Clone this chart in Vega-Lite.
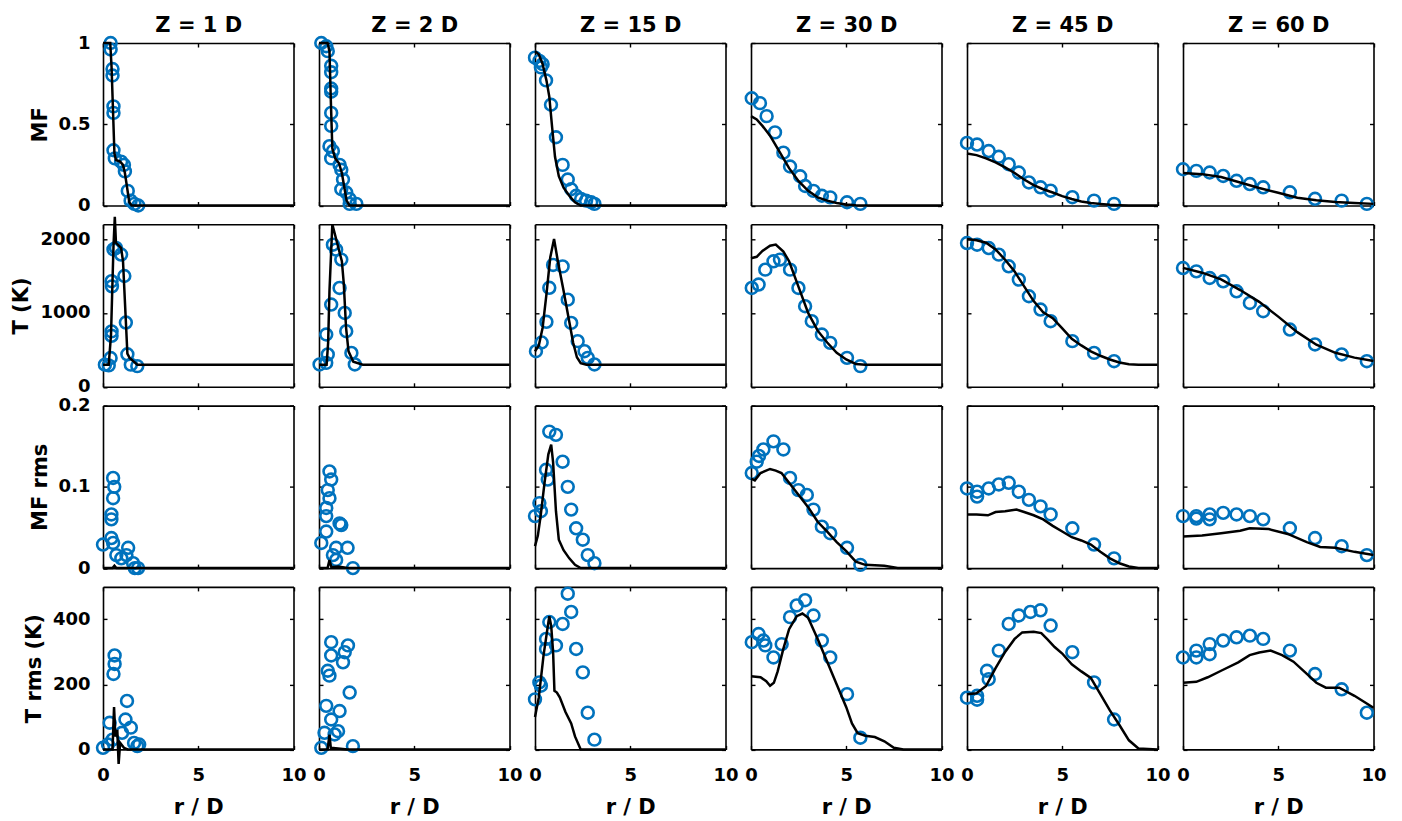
{
"$schema":"https://vega.github.io/schema/vega-lite/v6.json",
"background":"white",
"padding":{"left":10,"top":14,"right":5,"bottom":5},
"datasets":{"d":[
{"z":1,"v":"MF","k":"p","r":0.4,"y":1.0},{"z":1,"v":"MF","k":"p","r":0.4,"y":0.96},{"z":1,"v":"MF","k":"p","r":0.5,"y":0.84},{"z":1,"v":"MF","k":"p","r":0.5,"y":0.8},{"z":1,"v":"MF","k":"p","r":0.55,"y":0.61},{"z":1,"v":"MF","k":"p","r":0.55,"y":0.57},{"z":1,"v":"MF","k":"p","r":0.55,"y":0.34},{"z":1,"v":"MF","k":"p","r":0.62,"y":0.29},{"z":1,"v":"MF","k":"p","r":0.95,"y":0.27},{"z":1,"v":"MF","k":"p","r":1.1,"y":0.25},{"z":1,"v":"MF","k":"p","r":1.15,"y":0.21},{"z":1,"v":"MF","k":"p","r":1.3,"y":0.09},{"z":1,"v":"MF","k":"p","r":1.45,"y":0.03},{"z":1,"v":"MF","k":"p","r":1.65,"y":0.01},{"z":1,"v":"MF","k":"p","r":1.85,"y":0.0},
{"z":1,"v":"MF","k":"l","r":0,"y":1},{"z":1,"v":"MF","k":"l","r":0.38,"y":1},{"z":1,"v":"MF","k":"l","r":0.45,"y":0.85},{"z":1,"v":"MF","k":"l","r":0.6,"y":0.32},{"z":1,"v":"MF","k":"l","r":0.68,"y":0.28},{"z":1,"v":"MF","k":"l","r":0.9,"y":0.27},{"z":1,"v":"MF","k":"l","r":1.05,"y":0.25},{"z":1,"v":"MF","k":"l","r":1.15,"y":0.2},{"z":1,"v":"MF","k":"l","r":1.38,"y":0.02},{"z":1,"v":"MF","k":"l","r":1.5,"y":0},{"z":1,"v":"MF","k":"l","r":10,"y":0},
{"z":1,"v":"T","k":"p","r":0.1,"y":300},{"z":1,"v":"T","k":"p","r":0.3,"y":290},{"z":1,"v":"T","k":"p","r":0.4,"y":390},{"z":1,"v":"T","k":"p","r":0.45,"y":750},{"z":1,"v":"T","k":"p","r":0.45,"y":690},{"z":1,"v":"T","k":"p","r":0.45,"y":1430},{"z":1,"v":"T","k":"p","r":0.47,"y":1360},{"z":1,"v":"T","k":"p","r":0.55,"y":1860},{"z":1,"v":"T","k":"p","r":0.68,"y":1880},{"z":1,"v":"T","k":"p","r":0.95,"y":1790},{"z":1,"v":"T","k":"p","r":1.12,"y":1500},{"z":1,"v":"T","k":"p","r":1.2,"y":870},{"z":1,"v":"T","k":"p","r":1.28,"y":440},{"z":1,"v":"T","k":"p","r":1.46,"y":300},{"z":1,"v":"T","k":"p","r":1.8,"y":280},
{"z":1,"v":"T","k":"l","r":0,"y":300},{"z":1,"v":"T","k":"l","r":0.3,"y":300},{"z":1,"v":"T","k":"l","r":0.42,"y":700},{"z":1,"v":"T","k":"l","r":0.55,"y":1900},{"z":1,"v":"T","k":"l","r":0.62,"y":2300},{"z":1,"v":"T","k":"l","r":0.68,"y":1950},{"z":1,"v":"T","k":"l","r":0.95,"y":1880},{"z":1,"v":"T","k":"l","r":1.05,"y":1700},{"z":1,"v":"T","k":"l","r":1.28,"y":450},{"z":1,"v":"T","k":"l","r":1.4,"y":390},{"z":1,"v":"T","k":"l","r":1.8,"y":300},{"z":1,"v":"T","k":"l","r":10,"y":300},
{"z":1,"v":"MFrms","k":"p","r":0.53,"y":0.111},{"z":1,"v":"MFrms","k":"p","r":0.59,"y":0.1},{"z":1,"v":"MFrms","k":"p","r":0.53,"y":0.086},{"z":1,"v":"MFrms","k":"p","r":0.44,"y":0.066},{"z":1,"v":"MFrms","k":"p","r":0.44,"y":0.06},{"z":1,"v":"MFrms","k":"p","r":0,"y":0.029},{"z":1,"v":"MFrms","k":"p","r":0.44,"y":0.037},{"z":1,"v":"MFrms","k":"p","r":0.53,"y":0.031},{"z":1,"v":"MFrms","k":"p","r":0.7,"y":0.016},{"z":1,"v":"MFrms","k":"p","r":0.96,"y":0.012},{"z":1,"v":"MFrms","k":"p","r":1.32,"y":0.025},{"z":1,"v":"MFrms","k":"p","r":1.23,"y":0.016},{"z":1,"v":"MFrms","k":"p","r":1.58,"y":0.006},{"z":1,"v":"MFrms","k":"p","r":1.84,"y":0},{"z":1,"v":"MFrms","k":"p","r":1.67,"y":0},
{"z":1,"v":"MFrms","k":"l","r":0,"y":0},{"z":1,"v":"MFrms","k":"l","r":0.5,"y":0},{"z":1,"v":"MFrms","k":"l","r":0.6,"y":0.003},{"z":1,"v":"MFrms","k":"l","r":0.7,"y":0},{"z":1,"v":"MFrms","k":"l","r":10,"y":0},
{"z":1,"v":"Trms","k":"p","r":0,"y":5},{"z":1,"v":"Trms","k":"p","r":0.35,"y":82},{"z":1,"v":"Trms","k":"p","r":0.61,"y":289},{"z":1,"v":"Trms","k":"p","r":0.61,"y":263},{"z":1,"v":"Trms","k":"p","r":0.55,"y":232},{"z":1,"v":"Trms","k":"p","r":1.26,"y":149},{"z":1,"v":"Trms","k":"p","r":1.18,"y":92},{"z":1,"v":"Trms","k":"p","r":1.46,"y":67},{"z":1,"v":"Trms","k":"p","r":1.0,"y":51},{"z":1,"v":"Trms","k":"p","r":0.5,"y":30},{"z":1,"v":"Trms","k":"p","r":1.63,"y":20},{"z":1,"v":"Trms","k":"p","r":1.9,"y":15},{"z":1,"v":"Trms","k":"p","r":1.8,"y":10},{"z":1,"v":"Trms","k":"p","r":0.26,"y":15},
{"z":1,"v":"Trms","k":"l","r":0,"y":0},{"z":1,"v":"Trms","k":"l","r":0.5,"y":0},{"z":1,"v":"Trms","k":"l","r":0.58,"y":130},{"z":1,"v":"Trms","k":"l","r":0.65,"y":40},{"z":1,"v":"Trms","k":"l","r":0.75,"y":60},{"z":1,"v":"Trms","k":"l","r":0.82,"y":-45},{"z":1,"v":"Trms","k":"l","r":0.9,"y":20},{"z":1,"v":"Trms","k":"l","r":1.1,"y":5},{"z":1,"v":"Trms","k":"l","r":1.3,"y":0},{"z":1,"v":"Trms","k":"l","r":10,"y":0},

{"z":2,"v":"MF","k":"p","r":0.12,"y":1},{"z":2,"v":"MF","k":"p","r":0.38,"y":0.98},{"z":2,"v":"MF","k":"p","r":0.46,"y":0.95},{"z":2,"v":"MF","k":"p","r":0.64,"y":0.86},{"z":2,"v":"MF","k":"p","r":0.64,"y":0.82},{"z":2,"v":"MF","k":"p","r":0.64,"y":0.72},{"z":2,"v":"MF","k":"p","r":0.64,"y":0.7},{"z":2,"v":"MF","k":"p","r":0.64,"y":0.57},{"z":2,"v":"MF","k":"p","r":0.64,"y":0.49},{"z":2,"v":"MF","k":"p","r":0.55,"y":0.365},{"z":2,"v":"MF","k":"p","r":0.73,"y":0.335},{"z":2,"v":"MF","k":"p","r":0.64,"y":0.29},{"z":2,"v":"MF","k":"p","r":1.08,"y":0.25},{"z":2,"v":"MF","k":"p","r":1.17,"y":0.22},{"z":2,"v":"MF","k":"p","r":1.26,"y":0.16},{"z":2,"v":"MF","k":"p","r":1.17,"y":0.1},{"z":2,"v":"MF","k":"p","r":1.43,"y":0.08},{"z":2,"v":"MF","k":"p","r":1.61,"y":0.04},{"z":2,"v":"MF","k":"p","r":1.61,"y":0.01},{"z":2,"v":"MF","k":"p","r":1.96,"y":0.01},
{"z":2,"v":"MF","k":"l","r":0,"y":1},{"z":2,"v":"MF","k":"l","r":0.45,"y":1},{"z":2,"v":"MF","k":"l","r":0.55,"y":0.95},{"z":2,"v":"MF","k":"l","r":0.62,"y":0.65},{"z":2,"v":"MF","k":"l","r":0.7,"y":0.35},{"z":2,"v":"MF","k":"l","r":0.85,"y":0.29},{"z":2,"v":"MF","k":"l","r":1.05,"y":0.26},{"z":2,"v":"MF","k":"l","r":1.2,"y":0.2},{"z":2,"v":"MF","k":"l","r":1.45,"y":0.03},{"z":2,"v":"MF","k":"l","r":1.6,"y":0},{"z":2,"v":"MF","k":"l","r":10,"y":0},
{"z":2,"v":"T","k":"p","r":0.03,"y":303},{"z":2,"v":"T","k":"p","r":0.38,"y":324},{"z":2,"v":"T","k":"p","r":0.46,"y":438},{"z":2,"v":"T","k":"p","r":0.38,"y":708},{"z":2,"v":"T","k":"p","r":0.64,"y":1113},{"z":2,"v":"T","k":"p","r":0.73,"y":1924},{"z":2,"v":"T","k":"p","r":0.9,"y":1857},{"z":2,"v":"T","k":"p","r":1.17,"y":1722},{"z":2,"v":"T","k":"p","r":1.08,"y":1338},{"z":2,"v":"T","k":"p","r":1.35,"y":1000},{"z":2,"v":"T","k":"p","r":1.43,"y":753},{"z":2,"v":"T","k":"p","r":1.7,"y":459},{"z":2,"v":"T","k":"p","r":1.88,"y":303},
{"z":2,"v":"T","k":"l","r":0,"y":300},{"z":2,"v":"T","k":"l","r":0.4,"y":300},{"z":2,"v":"T","k":"l","r":0.48,"y":600},{"z":2,"v":"T","k":"l","r":0.55,"y":1300},{"z":2,"v":"T","k":"l","r":0.7,"y":2200},{"z":2,"v":"T","k":"l","r":0.95,"y":1950},{"z":2,"v":"T","k":"l","r":1.2,"y":1700},{"z":2,"v":"T","k":"l","r":1.3,"y":1400},{"z":2,"v":"T","k":"l","r":1.42,"y":800},{"z":2,"v":"T","k":"l","r":1.55,"y":480},{"z":2,"v":"T","k":"l","r":1.8,"y":340},{"z":2,"v":"T","k":"l","r":2.3,"y":300},{"z":2,"v":"T","k":"l","r":10,"y":300},
{"z":2,"v":"MFrms","k":"p","r":0.55,"y":0.119},{"z":2,"v":"MFrms","k":"p","r":0.64,"y":0.109},{"z":2,"v":"MFrms","k":"p","r":0.46,"y":0.096},{"z":2,"v":"MFrms","k":"p","r":0.55,"y":0.086},{"z":2,"v":"MFrms","k":"p","r":0.38,"y":0.074},{"z":2,"v":"MFrms","k":"p","r":0.38,"y":0.064},{"z":2,"v":"MFrms","k":"p","r":1.08,"y":0.055},{"z":2,"v":"MFrms","k":"p","r":1.17,"y":0.053},{"z":2,"v":"MFrms","k":"p","r":0.38,"y":0.045},{"z":2,"v":"MFrms","k":"p","r":0.12,"y":0.031},{"z":2,"v":"MFrms","k":"p","r":0.9,"y":0.025},{"z":2,"v":"MFrms","k":"p","r":1.5,"y":0.025},{"z":2,"v":"MFrms","k":"p","r":0.73,"y":0.016},{"z":2,"v":"MFrms","k":"p","r":0.9,"y":0.01},{"z":2,"v":"MFrms","k":"p","r":1.78,"y":0},
{"z":2,"v":"MFrms","k":"l","r":0,"y":0},{"z":2,"v":"MFrms","k":"l","r":0.45,"y":0},{"z":2,"v":"MFrms","k":"l","r":0.55,"y":0.01},{"z":2,"v":"MFrms","k":"l","r":0.65,"y":0.001},{"z":2,"v":"MFrms","k":"l","r":1.0,"y":0.002},{"z":2,"v":"MFrms","k":"l","r":1.5,"y":0},{"z":2,"v":"MFrms","k":"l","r":10,"y":0},
{"z":2,"v":"Trms","k":"p","r":0.64,"y":330},{"z":2,"v":"Trms","k":"p","r":0.64,"y":289},{"z":2,"v":"Trms","k":"p","r":1.52,"y":320},{"z":2,"v":"Trms","k":"p","r":1.35,"y":299},{"z":2,"v":"Trms","k":"p","r":1.26,"y":268},{"z":2,"v":"Trms","k":"p","r":0.46,"y":242},{"z":2,"v":"Trms","k":"p","r":0.55,"y":227},{"z":2,"v":"Trms","k":"p","r":1.61,"y":175},{"z":2,"v":"Trms","k":"p","r":0.38,"y":134},{"z":2,"v":"Trms","k":"p","r":1.08,"y":118},{"z":2,"v":"Trms","k":"p","r":0.64,"y":92},{"z":2,"v":"Trms","k":"p","r":1.0,"y":56},{"z":2,"v":"Trms","k":"p","r":0.29,"y":51},{"z":2,"v":"Trms","k":"p","r":0.82,"y":46},{"z":2,"v":"Trms","k":"p","r":0.12,"y":5},{"z":2,"v":"Trms","k":"p","r":1.78,"y":10},
{"z":2,"v":"Trms","k":"l","r":0,"y":0},{"z":2,"v":"Trms","k":"l","r":0.45,"y":0},{"z":2,"v":"Trms","k":"l","r":0.55,"y":45},{"z":2,"v":"Trms","k":"l","r":0.62,"y":5},{"z":2,"v":"Trms","k":"l","r":1.0,"y":3},{"z":2,"v":"Trms","k":"l","r":1.5,"y":0},{"z":2,"v":"Trms","k":"l","r":10,"y":0},

{"z":15,"v":"MF","k":"p","r":0.0,"y":0.91},{"z":15,"v":"MF","k":"p","r":0.23,"y":0.89},{"z":15,"v":"MF","k":"p","r":0.4,"y":0.87},{"z":15,"v":"MF","k":"p","r":0.31,"y":0.85},{"z":15,"v":"MF","k":"p","r":0.58,"y":0.77},{"z":15,"v":"MF","k":"p","r":0.84,"y":0.62},{"z":15,"v":"MF","k":"p","r":1.1,"y":0.42},{"z":15,"v":"MF","k":"p","r":1.45,"y":0.25},{"z":15,"v":"MF","k":"p","r":1.72,"y":0.16},{"z":15,"v":"MF","k":"p","r":1.9,"y":0.1},{"z":15,"v":"MF","k":"p","r":2.16,"y":0.06},{"z":15,"v":"MF","k":"p","r":2.42,"y":0.04},{"z":15,"v":"MF","k":"p","r":2.68,"y":0.03},{"z":15,"v":"MF","k":"p","r":2.95,"y":0.02},{"z":15,"v":"MF","k":"p","r":3.12,"y":0.01},
{"z":15,"v":"MF","k":"l","r":0,"y":0.95},{"z":15,"v":"MF","k":"l","r":0.2,"y":0.93},{"z":15,"v":"MF","k":"l","r":0.4,"y":0.87},{"z":15,"v":"MF","k":"l","r":0.6,"y":0.77},{"z":15,"v":"MF","k":"l","r":0.75,"y":0.67},{"z":15,"v":"MF","k":"l","r":0.9,"y":0.48},{"z":15,"v":"MF","k":"l","r":1.05,"y":0.3},{"z":15,"v":"MF","k":"l","r":1.25,"y":0.18},{"z":15,"v":"MF","k":"l","r":1.5,"y":0.11},{"z":15,"v":"MF","k":"l","r":1.8,"y":0.06},{"z":15,"v":"MF","k":"l","r":2.1,"y":0.02},{"z":15,"v":"MF","k":"l","r":2.4,"y":0},{"z":15,"v":"MF","k":"l","r":10,"y":0},
{"z":15,"v":"T","k":"p","r":0.05,"y":482},{"z":15,"v":"T","k":"p","r":0.35,"y":600},{"z":15,"v":"T","k":"p","r":0.6,"y":880},{"z":15,"v":"T","k":"p","r":0.75,"y":1340},{"z":15,"v":"T","k":"p","r":0.95,"y":1650},{"z":15,"v":"T","k":"p","r":1.45,"y":1630},{"z":15,"v":"T","k":"p","r":1.72,"y":1180},{"z":15,"v":"T","k":"p","r":1.9,"y":865},{"z":15,"v":"T","k":"p","r":2.24,"y":618},{"z":15,"v":"T","k":"p","r":2.6,"y":482},{"z":15,"v":"T","k":"p","r":2.77,"y":392},{"z":15,"v":"T","k":"p","r":3.12,"y":303},
{"z":15,"v":"T","k":"l","r":0,"y":480},{"z":15,"v":"T","k":"l","r":0.2,"y":560},{"z":15,"v":"T","k":"l","r":0.4,"y":800},{"z":15,"v":"T","k":"l","r":0.6,"y":1250},{"z":15,"v":"T","k":"l","r":0.8,"y":1750},{"z":15,"v":"T","k":"l","r":1.0,"y":2000},{"z":15,"v":"T","k":"l","r":1.2,"y":1700},{"z":15,"v":"T","k":"l","r":1.5,"y":1300},{"z":15,"v":"T","k":"l","r":1.8,"y":880},{"z":15,"v":"T","k":"l","r":2.0,"y":600},{"z":15,"v":"T","k":"l","r":2.2,"y":400},{"z":15,"v":"T","k":"l","r":2.4,"y":320},{"z":15,"v":"T","k":"l","r":2.7,"y":300},{"z":15,"v":"T","k":"l","r":10,"y":300},
{"z":15,"v":"MFrms","k":"p","r":0.75,"y":0.168},{"z":15,"v":"MFrms","k":"p","r":1.1,"y":0.164},{"z":15,"v":"MFrms","k":"p","r":1.45,"y":0.131},{"z":15,"v":"MFrms","k":"p","r":1.72,"y":0.1},{"z":15,"v":"MFrms","k":"p","r":0.58,"y":0.121},{"z":15,"v":"MFrms","k":"p","r":0.67,"y":0.109},{"z":15,"v":"MFrms","k":"p","r":1.9,"y":0.072},{"z":15,"v":"MFrms","k":"p","r":0.23,"y":0.08},{"z":15,"v":"MFrms","k":"p","r":0.31,"y":0.07},{"z":15,"v":"MFrms","k":"p","r":0.0,"y":0.064},{"z":15,"v":"MFrms","k":"p","r":2.16,"y":0.049},{"z":15,"v":"MFrms","k":"p","r":2.51,"y":0.035},{"z":15,"v":"MFrms","k":"p","r":2.77,"y":0.016},{"z":15,"v":"MFrms","k":"p","r":3.12,"y":0.006},
{"z":15,"v":"MFrms","k":"l","r":0,"y":0.027},{"z":15,"v":"MFrms","k":"l","r":0.15,"y":0.04},{"z":15,"v":"MFrms","k":"l","r":0.3,"y":0.065},{"z":15,"v":"MFrms","k":"l","r":0.5,"y":0.105},{"z":15,"v":"MFrms","k":"l","r":0.7,"y":0.14},{"z":15,"v":"MFrms","k":"l","r":0.85,"y":0.152},{"z":15,"v":"MFrms","k":"l","r":0.95,"y":0.13},{"z":15,"v":"MFrms","k":"l","r":1.1,"y":0.07},{"z":15,"v":"MFrms","k":"l","r":1.25,"y":0.035},{"z":15,"v":"MFrms","k":"l","r":1.5,"y":0.022},{"z":15,"v":"MFrms","k":"l","r":1.8,"y":0.012},{"z":15,"v":"MFrms","k":"l","r":2.1,"y":0.004},{"z":15,"v":"MFrms","k":"l","r":2.4,"y":0},{"z":15,"v":"MFrms","k":"l","r":10,"y":0},
{"z":15,"v":"Trms","k":"p","r":1.72,"y":479},{"z":15,"v":"Trms","k":"p","r":1.9,"y":423},{"z":15,"v":"Trms","k":"p","r":1.45,"y":386},{"z":15,"v":"Trms","k":"p","r":0.75,"y":392},{"z":15,"v":"Trms","k":"p","r":0.58,"y":340},{"z":15,"v":"Trms","k":"p","r":1.1,"y":320},{"z":15,"v":"Trms","k":"p","r":0.58,"y":309},{"z":15,"v":"Trms","k":"p","r":2.16,"y":309},{"z":15,"v":"Trms","k":"p","r":2.51,"y":237},{"z":15,"v":"Trms","k":"p","r":0.23,"y":206},{"z":15,"v":"Trms","k":"p","r":0.31,"y":196},{"z":15,"v":"Trms","k":"p","r":0.0,"y":154},{"z":15,"v":"Trms","k":"p","r":2.77,"y":113},{"z":15,"v":"Trms","k":"p","r":3.12,"y":30},
{"z":15,"v":"Trms","k":"l","r":0,"y":100},{"z":15,"v":"Trms","k":"l","r":0.2,"y":160},{"z":15,"v":"Trms","k":"l","r":0.45,"y":290},{"z":15,"v":"Trms","k":"l","r":0.75,"y":410},{"z":15,"v":"Trms","k":"l","r":0.85,"y":380},{"z":15,"v":"Trms","k":"l","r":0.95,"y":300},{"z":15,"v":"Trms","k":"l","r":1.02,"y":180},{"z":15,"v":"Trms","k":"l","r":1.15,"y":175},{"z":15,"v":"Trms","k":"l","r":1.3,"y":160},{"z":15,"v":"Trms","k":"l","r":1.6,"y":115},{"z":15,"v":"Trms","k":"l","r":1.9,"y":80},{"z":15,"v":"Trms","k":"l","r":2.1,"y":40},{"z":15,"v":"Trms","k":"l","r":2.4,"y":0},{"z":15,"v":"Trms","k":"l","r":10,"y":0},

{"z":30,"v":"MF","k":"p","r":0.04,"y":0.66},{"z":30,"v":"MF","k":"p","r":0.47,"y":0.63},{"z":30,"v":"MF","k":"p","r":0.82,"y":0.55},{"z":30,"v":"MF","k":"p","r":1.26,"y":0.45},{"z":30,"v":"MF","k":"p","r":1.7,"y":0.325},{"z":30,"v":"MF","k":"p","r":2.05,"y":0.24},{"z":30,"v":"MF","k":"p","r":2.58,"y":0.18},{"z":30,"v":"MF","k":"p","r":2.84,"y":0.12},{"z":30,"v":"MF","k":"p","r":3.28,"y":0.09},{"z":30,"v":"MF","k":"p","r":3.72,"y":0.06},{"z":30,"v":"MF","k":"p","r":4.16,"y":0.05},{"z":30,"v":"MF","k":"p","r":5.04,"y":0.02},{"z":30,"v":"MF","k":"p","r":5.74,"y":0.01},
{"z":30,"v":"MF","k":"l","r":0,"y":0.55},{"z":30,"v":"MF","k":"l","r":0.3,"y":0.53},{"z":30,"v":"MF","k":"l","r":0.6,"y":0.49},{"z":30,"v":"MF","k":"l","r":1.0,"y":0.43},{"z":30,"v":"MF","k":"l","r":1.5,"y":0.33},{"z":30,"v":"MF","k":"l","r":2.0,"y":0.23},{"z":30,"v":"MF","k":"l","r":2.5,"y":0.15},{"z":30,"v":"MF","k":"l","r":3.0,"y":0.09},{"z":30,"v":"MF","k":"l","r":3.5,"y":0.05},{"z":30,"v":"MF","k":"l","r":4.0,"y":0.03},{"z":30,"v":"MF","k":"l","r":4.5,"y":0.015},{"z":30,"v":"MF","k":"l","r":5.0,"y":0.006},{"z":30,"v":"MF","k":"l","r":5.5,"y":0.002},{"z":30,"v":"MF","k":"l","r":6.5,"y":0},{"z":30,"v":"MF","k":"l","r":10,"y":0},
{"z":30,"v":"T","k":"p","r":0.04,"y":1338},{"z":30,"v":"T","k":"p","r":0.4,"y":1384},{"z":30,"v":"T","k":"p","r":0.75,"y":1586},{"z":30,"v":"T","k":"p","r":1.18,"y":1699},{"z":30,"v":"T","k":"p","r":1.52,"y":1722},{"z":30,"v":"T","k":"p","r":2.05,"y":1586},{"z":30,"v":"T","k":"p","r":2.49,"y":1338},{"z":30,"v":"T","k":"p","r":2.84,"y":1091},{"z":30,"v":"T","k":"p","r":3.19,"y":888},{"z":30,"v":"T","k":"p","r":3.72,"y":708},{"z":30,"v":"T","k":"p","r":4.16,"y":595},{"z":30,"v":"T","k":"p","r":5.04,"y":392},{"z":30,"v":"T","k":"p","r":5.74,"y":280},
{"z":30,"v":"T","k":"l","r":0,"y":1740},{"z":30,"v":"T","k":"l","r":0.3,"y":1760},{"z":30,"v":"T","k":"l","r":0.6,"y":1840},{"z":30,"v":"T","k":"l","r":1.0,"y":1910},{"z":30,"v":"T","k":"l","r":1.3,"y":1925},{"z":30,"v":"T","k":"l","r":1.7,"y":1830},{"z":30,"v":"T","k":"l","r":2.0,"y":1700},{"z":30,"v":"T","k":"l","r":2.5,"y":1350},{"z":30,"v":"T","k":"l","r":3.0,"y":1000},{"z":30,"v":"T","k":"l","r":3.5,"y":760},{"z":30,"v":"T","k":"l","r":4.0,"y":600},{"z":30,"v":"T","k":"l","r":4.5,"y":460},{"z":30,"v":"T","k":"l","r":5.0,"y":370},{"z":30,"v":"T","k":"l","r":5.5,"y":310},{"z":30,"v":"T","k":"l","r":6.0,"y":300},{"z":30,"v":"T","k":"l","r":10,"y":300},
{"z":30,"v":"MFrms","k":"p","r":0.04,"y":0.117},{"z":30,"v":"MFrms","k":"p","r":0.3,"y":0.131},{"z":30,"v":"MFrms","k":"p","r":0.42,"y":0.138},{"z":30,"v":"MFrms","k":"p","r":0.65,"y":0.146},{"z":30,"v":"MFrms","k":"p","r":1.18,"y":0.156},{"z":30,"v":"MFrms","k":"p","r":1.7,"y":0.146},{"z":30,"v":"MFrms","k":"p","r":2.05,"y":0.111},{"z":30,"v":"MFrms","k":"p","r":2.49,"y":0.096},{"z":30,"v":"MFrms","k":"p","r":2.93,"y":0.09},{"z":30,"v":"MFrms","k":"p","r":3.28,"y":0.072},{"z":30,"v":"MFrms","k":"p","r":3.72,"y":0.051},{"z":30,"v":"MFrms","k":"p","r":4.16,"y":0.043},{"z":30,"v":"MFrms","k":"p","r":5.04,"y":0.025},{"z":30,"v":"MFrms","k":"p","r":5.74,"y":0.004},
{"z":30,"v":"MFrms","k":"l","r":0,"y":0.11},{"z":30,"v":"MFrms","k":"l","r":0.2,"y":0.108},{"z":30,"v":"MFrms","k":"l","r":0.5,"y":0.117},{"z":30,"v":"MFrms","k":"l","r":1.0,"y":0.122},{"z":30,"v":"MFrms","k":"l","r":1.3,"y":0.12},{"z":30,"v":"MFrms","k":"l","r":1.6,"y":0.117},{"z":30,"v":"MFrms","k":"l","r":2.0,"y":0.105},{"z":30,"v":"MFrms","k":"l","r":2.5,"y":0.09},{"z":30,"v":"MFrms","k":"l","r":3.0,"y":0.075},{"z":30,"v":"MFrms","k":"l","r":3.5,"y":0.057},{"z":30,"v":"MFrms","k":"l","r":4.0,"y":0.045},{"z":30,"v":"MFrms","k":"l","r":4.5,"y":0.032},{"z":30,"v":"MFrms","k":"l","r":5.0,"y":0.021},{"z":30,"v":"MFrms","k":"l","r":5.5,"y":0.008},{"z":30,"v":"MFrms","k":"l","r":6.0,"y":0.004},{"z":30,"v":"MFrms","k":"l","r":7.0,"y":0.003},{"z":30,"v":"MFrms","k":"l","r":7.7,"y":0},{"z":30,"v":"MFrms","k":"l","r":10,"y":0},
{"z":30,"v":"Trms","k":"p","r":0.04,"y":330},{"z":30,"v":"Trms","k":"p","r":0.4,"y":355},{"z":30,"v":"Trms","k":"p","r":0.65,"y":335},{"z":30,"v":"Trms","k":"p","r":0.75,"y":320},{"z":30,"v":"Trms","k":"p","r":1.18,"y":283},{"z":30,"v":"Trms","k":"p","r":1.61,"y":324},{"z":30,"v":"Trms","k":"p","r":2.05,"y":407},{"z":30,"v":"Trms","k":"p","r":2.4,"y":443},{"z":30,"v":"Trms","k":"p","r":2.84,"y":459},{"z":30,"v":"Trms","k":"p","r":3.28,"y":412},{"z":30,"v":"Trms","k":"p","r":3.72,"y":335},{"z":30,"v":"Trms","k":"p","r":4.16,"y":283},{"z":30,"v":"Trms","k":"p","r":5.04,"y":170},{"z":30,"v":"Trms","k":"p","r":5.74,"y":36},
{"z":30,"v":"Trms","k":"l","r":0,"y":225},{"z":30,"v":"Trms","k":"l","r":0.5,"y":222},{"z":30,"v":"Trms","k":"l","r":0.8,"y":210},{"z":30,"v":"Trms","k":"l","r":1.0,"y":196},{"z":30,"v":"Trms","k":"l","r":1.2,"y":205},{"z":30,"v":"Trms","k":"l","r":1.4,"y":240},{"z":30,"v":"Trms","k":"l","r":1.7,"y":310},{"z":30,"v":"Trms","k":"l","r":2.0,"y":370},{"z":30,"v":"Trms","k":"l","r":2.4,"y":410},{"z":30,"v":"Trms","k":"l","r":2.7,"y":418},{"z":30,"v":"Trms","k":"l","r":3.0,"y":405},{"z":30,"v":"Trms","k":"l","r":3.5,"y":340},{"z":30,"v":"Trms","k":"l","r":4.0,"y":270},{"z":30,"v":"Trms","k":"l","r":4.5,"y":200},{"z":30,"v":"Trms","k":"l","r":5.0,"y":130},{"z":30,"v":"Trms","k":"l","r":5.3,"y":80},{"z":30,"v":"Trms","k":"l","r":5.6,"y":50},{"z":30,"v":"Trms","k":"l","r":6.0,"y":42},{"z":30,"v":"Trms","k":"l","r":6.5,"y":38},{"z":30,"v":"Trms","k":"l","r":7.0,"y":25},{"z":30,"v":"Trms","k":"l","r":7.5,"y":5},{"z":30,"v":"Trms","k":"l","r":8,"y":0},{"z":30,"v":"Trms","k":"l","r":10,"y":0},

{"z":45,"v":"MF","k":"p","r":0,"y":0.385},{"z":45,"v":"MF","k":"p","r":0.53,"y":0.375},{"z":45,"v":"MF","k":"p","r":1.14,"y":0.335},{"z":45,"v":"MF","k":"p","r":1.67,"y":0.3},{"z":45,"v":"MF","k":"p","r":2.19,"y":0.254},{"z":45,"v":"MF","k":"p","r":2.72,"y":0.203},{"z":45,"v":"MF","k":"p","r":3.25,"y":0.142},{"z":45,"v":"MF","k":"p","r":3.86,"y":0.112},{"z":45,"v":"MF","k":"p","r":4.39,"y":0.091},{"z":45,"v":"MF","k":"p","r":5.53,"y":0.051},{"z":45,"v":"MF","k":"p","r":6.67,"y":0.03},{"z":45,"v":"MF","k":"p","r":7.72,"y":0.01},
{"z":45,"v":"MF","k":"l","r":0,"y":0.32},{"z":45,"v":"MF","k":"l","r":0.5,"y":0.31},{"z":45,"v":"MF","k":"l","r":1.0,"y":0.29},{"z":45,"v":"MF","k":"l","r":1.5,"y":0.265},{"z":45,"v":"MF","k":"l","r":2.0,"y":0.235},{"z":45,"v":"MF","k":"l","r":2.5,"y":0.2},{"z":45,"v":"MF","k":"l","r":3.0,"y":0.16},{"z":45,"v":"MF","k":"l","r":3.5,"y":0.125},{"z":45,"v":"MF","k":"l","r":4.0,"y":0.1},{"z":45,"v":"MF","k":"l","r":4.5,"y":0.08},{"z":45,"v":"MF","k":"l","r":5.0,"y":0.058},{"z":45,"v":"MF","k":"l","r":5.5,"y":0.04},{"z":45,"v":"MF","k":"l","r":6.0,"y":0.025},{"z":45,"v":"MF","k":"l","r":6.5,"y":0.016},{"z":45,"v":"MF","k":"l","r":7.0,"y":0.01},{"z":45,"v":"MF","k":"l","r":7.5,"y":0.005},{"z":45,"v":"MF","k":"l","r":8.0,"y":0.002},{"z":45,"v":"MF","k":"l","r":8.5,"y":0},{"z":45,"v":"MF","k":"l","r":10,"y":0},
{"z":45,"v":"T","k":"p","r":0,"y":1946},{"z":45,"v":"T","k":"p","r":0.53,"y":1924},{"z":45,"v":"T","k":"p","r":1.14,"y":1878},{"z":45,"v":"T","k":"p","r":1.67,"y":1789},{"z":45,"v":"T","k":"p","r":2.19,"y":1631},{"z":45,"v":"T","k":"p","r":2.72,"y":1451},{"z":45,"v":"T","k":"p","r":3.25,"y":1226},{"z":45,"v":"T","k":"p","r":3.86,"y":1046},{"z":45,"v":"T","k":"p","r":4.39,"y":888},{"z":45,"v":"T","k":"p","r":5.53,"y":618},{"z":45,"v":"T","k":"p","r":6.67,"y":459},{"z":45,"v":"T","k":"p","r":7.72,"y":347},
{"z":45,"v":"T","k":"l","r":0,"y":2000},{"z":45,"v":"T","k":"l","r":0.5,"y":1985},{"z":45,"v":"T","k":"l","r":1.0,"y":1950},{"z":45,"v":"T","k":"l","r":1.5,"y":1860},{"z":45,"v":"T","k":"l","r":2.0,"y":1720},{"z":45,"v":"T","k":"l","r":2.5,"y":1560},{"z":45,"v":"T","k":"l","r":3.0,"y":1360},{"z":45,"v":"T","k":"l","r":3.5,"y":1160},{"z":45,"v":"T","k":"l","r":4.0,"y":1010},{"z":45,"v":"T","k":"l","r":4.5,"y":930},{"z":45,"v":"T","k":"l","r":5.0,"y":790},{"z":45,"v":"T","k":"l","r":5.5,"y":650},{"z":45,"v":"T","k":"l","r":6.0,"y":560},{"z":45,"v":"T","k":"l","r":6.5,"y":480},{"z":45,"v":"T","k":"l","r":7.0,"y":420},{"z":45,"v":"T","k":"l","r":7.5,"y":370},{"z":45,"v":"T","k":"l","r":8.0,"y":330},{"z":45,"v":"T","k":"l","r":8.5,"y":305},{"z":45,"v":"T","k":"l","r":9.0,"y":300},{"z":45,"v":"T","k":"l","r":10,"y":300},
{"z":45,"v":"MFrms","k":"p","r":0,"y":0.098},{"z":45,"v":"MFrms","k":"p","r":0.53,"y":0.094},{"z":45,"v":"MFrms","k":"p","r":0.53,"y":0.088},{"z":45,"v":"MFrms","k":"p","r":1.14,"y":0.098},{"z":45,"v":"MFrms","k":"p","r":1.67,"y":0.103},{"z":45,"v":"MFrms","k":"p","r":2.19,"y":0.105},{"z":45,"v":"MFrms","k":"p","r":2.72,"y":0.094},{"z":45,"v":"MFrms","k":"p","r":3.25,"y":0.084},{"z":45,"v":"MFrms","k":"p","r":3.86,"y":0.076},{"z":45,"v":"MFrms","k":"p","r":4.39,"y":0.066},{"z":45,"v":"MFrms","k":"p","r":5.53,"y":0.049},{"z":45,"v":"MFrms","k":"p","r":6.67,"y":0.029},{"z":45,"v":"MFrms","k":"p","r":7.72,"y":0.012},
{"z":45,"v":"MFrms","k":"l","r":0,"y":0.066},{"z":45,"v":"MFrms","k":"l","r":0.5,"y":0.066},{"z":45,"v":"MFrms","k":"l","r":1.1,"y":0.065},{"z":45,"v":"MFrms","k":"l","r":1.5,"y":0.069},{"z":45,"v":"MFrms","k":"l","r":2.0,"y":0.07},{"z":45,"v":"MFrms","k":"l","r":2.6,"y":0.072},{"z":45,"v":"MFrms","k":"l","r":3.0,"y":0.069},{"z":45,"v":"MFrms","k":"l","r":3.5,"y":0.065},{"z":45,"v":"MFrms","k":"l","r":4.0,"y":0.06},{"z":45,"v":"MFrms","k":"l","r":4.5,"y":0.052},{"z":45,"v":"MFrms","k":"l","r":5.0,"y":0.045},{"z":45,"v":"MFrms","k":"l","r":5.5,"y":0.038},{"z":45,"v":"MFrms","k":"l","r":6.0,"y":0.034},{"z":45,"v":"MFrms","k":"l","r":6.5,"y":0.029},{"z":45,"v":"MFrms","k":"l","r":7.0,"y":0.02},{"z":45,"v":"MFrms","k":"l","r":7.5,"y":0.012},{"z":45,"v":"MFrms","k":"l","r":8.0,"y":0.006},{"z":45,"v":"MFrms","k":"l","r":8.5,"y":0.002},{"z":45,"v":"MFrms","k":"l","r":9.0,"y":0},{"z":45,"v":"MFrms","k":"l","r":10,"y":0},
{"z":45,"v":"Trms","k":"p","r":0,"y":159},{"z":45,"v":"Trms","k":"p","r":0.53,"y":165},{"z":45,"v":"Trms","k":"p","r":0.53,"y":153},{"z":45,"v":"Trms","k":"p","r":1.05,"y":242},{"z":45,"v":"Trms","k":"p","r":1.14,"y":216},{"z":45,"v":"Trms","k":"p","r":1.67,"y":304},{"z":45,"v":"Trms","k":"p","r":2.19,"y":386},{"z":45,"v":"Trms","k":"p","r":2.72,"y":412},{"z":45,"v":"Trms","k":"p","r":3.33,"y":423},{"z":45,"v":"Trms","k":"p","r":3.86,"y":428},{"z":45,"v":"Trms","k":"p","r":4.39,"y":381},{"z":45,"v":"Trms","k":"p","r":5.53,"y":299},{"z":45,"v":"Trms","k":"p","r":6.67,"y":206},{"z":45,"v":"Trms","k":"p","r":7.72,"y":92},
{"z":45,"v":"Trms","k":"l","r":0,"y":170},{"z":45,"v":"Trms","k":"l","r":0.5,"y":173},{"z":45,"v":"Trms","k":"l","r":1.0,"y":195},{"z":45,"v":"Trms","k":"l","r":1.5,"y":250},{"z":45,"v":"Trms","k":"l","r":2.0,"y":300},{"z":45,"v":"Trms","k":"l","r":2.5,"y":340},{"z":45,"v":"Trms","k":"l","r":2.9,"y":360},{"z":45,"v":"Trms","k":"l","r":3.5,"y":362},{"z":45,"v":"Trms","k":"l","r":3.9,"y":358},{"z":45,"v":"Trms","k":"l","r":4.2,"y":340},{"z":45,"v":"Trms","k":"l","r":4.6,"y":315},{"z":45,"v":"Trms","k":"l","r":5.0,"y":295},{"z":45,"v":"Trms","k":"l","r":5.5,"y":262},{"z":45,"v":"Trms","k":"l","r":6.0,"y":240},{"z":45,"v":"Trms","k":"l","r":6.5,"y":220},{"z":45,"v":"Trms","k":"l","r":7.0,"y":170},{"z":45,"v":"Trms","k":"l","r":7.5,"y":120},{"z":45,"v":"Trms","k":"l","r":8.0,"y":75},{"z":45,"v":"Trms","k":"l","r":8.5,"y":28},{"z":45,"v":"Trms","k":"l","r":9.0,"y":3},{"z":45,"v":"Trms","k":"l","r":10,"y":0},

{"z":60,"v":"MF","k":"p","r":0,"y":0.223},{"z":60,"v":"MF","k":"p","r":0.7,"y":0.213},{"z":60,"v":"MF","k":"p","r":1.4,"y":0.203},{"z":60,"v":"MF","k":"p","r":2.11,"y":0.182},{"z":60,"v":"MF","k":"p","r":2.81,"y":0.152},{"z":60,"v":"MF","k":"p","r":3.51,"y":0.132},{"z":60,"v":"MF","k":"p","r":4.21,"y":0.112},{"z":60,"v":"MF","k":"p","r":5.61,"y":0.081},{"z":60,"v":"MF","k":"p","r":6.93,"y":0.041},{"z":60,"v":"MF","k":"p","r":8.33,"y":0.03},{"z":60,"v":"MF","k":"p","r":9.65,"y":0.01},
{"z":60,"v":"MF","k":"l","r":0,"y":0.2},{"z":60,"v":"MF","k":"l","r":1.0,"y":0.193},{"z":60,"v":"MF","k":"l","r":2.0,"y":0.175},{"z":60,"v":"MF","k":"l","r":3.0,"y":0.142},{"z":60,"v":"MF","k":"l","r":4.0,"y":0.108},{"z":60,"v":"MF","k":"l","r":5.0,"y":0.078},{"z":60,"v":"MF","k":"l","r":6.0,"y":0.048},{"z":60,"v":"MF","k":"l","r":7.0,"y":0.032},{"z":60,"v":"MF","k":"l","r":8.0,"y":0.022},{"z":60,"v":"MF","k":"l","r":9.0,"y":0.016},{"z":60,"v":"MF","k":"l","r":10,"y":0.01},
{"z":60,"v":"T","k":"p","r":0,"y":1608},{"z":60,"v":"T","k":"p","r":0.7,"y":1563},{"z":60,"v":"T","k":"p","r":1.4,"y":1473},{"z":60,"v":"T","k":"p","r":2.11,"y":1428},{"z":60,"v":"T","k":"p","r":2.81,"y":1293},{"z":60,"v":"T","k":"p","r":3.51,"y":1135},{"z":60,"v":"T","k":"p","r":4.21,"y":1023},{"z":60,"v":"T","k":"p","r":5.61,"y":775},{"z":60,"v":"T","k":"p","r":6.93,"y":573},{"z":60,"v":"T","k":"p","r":8.33,"y":438},{"z":60,"v":"T","k":"p","r":9.65,"y":347},
{"z":60,"v":"T","k":"l","r":0,"y":1610},{"z":60,"v":"T","k":"l","r":1.0,"y":1545},{"z":60,"v":"T","k":"l","r":2.0,"y":1455},{"z":60,"v":"T","k":"l","r":3.0,"y":1310},{"z":60,"v":"T","k":"l","r":4.0,"y":1150},{"z":60,"v":"T","k":"l","r":5.0,"y":950},{"z":60,"v":"T","k":"l","r":6.0,"y":740},{"z":60,"v":"T","k":"l","r":7.0,"y":570},{"z":60,"v":"T","k":"l","r":8.0,"y":460},{"z":60,"v":"T","k":"l","r":9.0,"y":395},{"z":60,"v":"T","k":"l","r":10,"y":350},
{"z":60,"v":"MFrms","k":"p","r":0,"y":0.064},{"z":60,"v":"MFrms","k":"p","r":0.7,"y":0.064},{"z":60,"v":"MFrms","k":"p","r":0.7,"y":0.061},{"z":60,"v":"MFrms","k":"p","r":1.4,"y":0.066},{"z":60,"v":"MFrms","k":"p","r":1.4,"y":0.06},{"z":60,"v":"MFrms","k":"p","r":2.11,"y":0.068},{"z":60,"v":"MFrms","k":"p","r":2.81,"y":0.066},{"z":60,"v":"MFrms","k":"p","r":3.51,"y":0.064},{"z":60,"v":"MFrms","k":"p","r":4.21,"y":0.06},{"z":60,"v":"MFrms","k":"p","r":5.61,"y":0.049},{"z":60,"v":"MFrms","k":"p","r":6.93,"y":0.037},{"z":60,"v":"MFrms","k":"p","r":8.33,"y":0.027},{"z":60,"v":"MFrms","k":"p","r":9.65,"y":0.016},
{"z":60,"v":"MFrms","k":"l","r":0,"y":0.039},{"z":60,"v":"MFrms","k":"l","r":1.0,"y":0.04},{"z":60,"v":"MFrms","k":"l","r":2.0,"y":0.043},{"z":60,"v":"MFrms","k":"l","r":3.0,"y":0.046},{"z":60,"v":"MFrms","k":"l","r":3.5,"y":0.049},{"z":60,"v":"MFrms","k":"l","r":4.5,"y":0.048},{"z":60,"v":"MFrms","k":"l","r":5.5,"y":0.042},{"z":60,"v":"MFrms","k":"l","r":6.5,"y":0.032},{"z":60,"v":"MFrms","k":"l","r":7.2,"y":0.026},{"z":60,"v":"MFrms","k":"l","r":8.0,"y":0.025},{"z":60,"v":"MFrms","k":"l","r":9.0,"y":0.02},{"z":60,"v":"MFrms","k":"l","r":10,"y":0.016},
{"z":60,"v":"Trms","k":"p","r":0,"y":283},{"z":60,"v":"Trms","k":"p","r":0.7,"y":304},{"z":60,"v":"Trms","k":"p","r":0.7,"y":283},{"z":60,"v":"Trms","k":"p","r":1.4,"y":324},{"z":60,"v":"Trms","k":"p","r":1.4,"y":293},{"z":60,"v":"Trms","k":"p","r":2.11,"y":335},{"z":60,"v":"Trms","k":"p","r":2.81,"y":345},{"z":60,"v":"Trms","k":"p","r":3.51,"y":350},{"z":60,"v":"Trms","k":"p","r":4.21,"y":340},{"z":60,"v":"Trms","k":"p","r":5.61,"y":304},{"z":60,"v":"Trms","k":"p","r":6.93,"y":232},{"z":60,"v":"Trms","k":"p","r":8.33,"y":185},{"z":60,"v":"Trms","k":"p","r":9.65,"y":113},
{"z":60,"v":"Trms","k":"l","r":0,"y":205},{"z":60,"v":"Trms","k":"l","r":0.7,"y":208},{"z":60,"v":"Trms","k":"l","r":1.3,"y":222},{"z":60,"v":"Trms","k":"l","r":2.0,"y":242},{"z":60,"v":"Trms","k":"l","r":2.9,"y":268},{"z":60,"v":"Trms","k":"l","r":3.5,"y":290},{"z":60,"v":"Trms","k":"l","r":4.0,"y":298},{"z":60,"v":"Trms","k":"l","r":4.6,"y":304},{"z":60,"v":"Trms","k":"l","r":5.2,"y":290},{"z":60,"v":"Trms","k":"l","r":5.8,"y":270},{"z":60,"v":"Trms","k":"l","r":6.4,"y":238},{"z":60,"v":"Trms","k":"l","r":7.0,"y":205},{"z":60,"v":"Trms","k":"l","r":7.5,"y":190},{"z":60,"v":"Trms","k":"l","r":8.2,"y":190},{"z":60,"v":"Trms","k":"l","r":9.0,"y":165},{"z":60,"v":"Trms","k":"l","r":10,"y":128}
]},
"data":{"name":"d"},
"columns":6,
"spacing":{"row":18.3,"column":25},
"bounds":"flush",
"concat":[
{"width":190.5,"height":162.5,"transform":[{"filter":"datum.z==1 && datum.v=='MF'"}],"layer":[
{"transform":[{"filter":"datum.k=='p'"}],"mark":"point","encoding":{"x":{"field":"r","type":"quantitative","scale":{"domain":[0,10],"nice":false,"zero":false},"axis":{"orient":"top","values":[0,5,10],"labels":false,"title":"Z = 1 D","titlePadding":7}},"y":{"field":"y","type":"quantitative","scale":{"domain":[0,1],"nice":false,"zero":false},"axis":{"orient":"right","values":[0,0.5,1],"labels":false,"title":null}}}},
{"transform":[{"filter":"datum.k=='l'"}],"mark":"line","encoding":{"x":{"field":"r","type":"quantitative","scale":{"domain":[0,10],"nice":false,"zero":false},"axis":{"orient":"bottom","values":[0,5,10],"labels":false,"title":null}},"y":{"field":"y","type":"quantitative","scale":{"domain":[0,1],"nice":false,"zero":false},"axis":{"orient":"left","values":[0,0.5,1],"format":"~f","title":"MF"}}}}
],"resolve":{"axis":{"x":"independent","y":"independent"}}},
{"width":190.5,"height":162.5,"transform":[{"filter":"datum.z==2 && datum.v=='MF'"}],"layer":[
{"transform":[{"filter":"datum.k=='p'"}],"mark":"point","encoding":{"x":{"field":"r","type":"quantitative","scale":{"domain":[0,10],"nice":false,"zero":false},"axis":{"orient":"top","values":[0,5,10],"labels":false,"title":"Z = 2 D","titlePadding":7}},"y":{"field":"y","type":"quantitative","scale":{"domain":[0,1],"nice":false,"zero":false},"axis":{"orient":"right","values":[0,0.5,1],"labels":false,"title":null}}}},
{"transform":[{"filter":"datum.k=='l'"}],"mark":"line","encoding":{"x":{"field":"r","type":"quantitative","scale":{"domain":[0,10],"nice":false,"zero":false},"axis":{"orient":"bottom","values":[0,5,10],"labels":false,"title":null}},"y":{"field":"y","type":"quantitative","scale":{"domain":[0,1],"nice":false,"zero":false},"axis":{"orient":"left","values":[0,0.5,1],"labels":false,"title":null}}}}
],"resolve":{"axis":{"x":"independent","y":"independent"}}},
{"width":190.5,"height":162.5,"transform":[{"filter":"datum.z==15 && datum.v=='MF'"}],"layer":[
{"transform":[{"filter":"datum.k=='p'"}],"mark":"point","encoding":{"x":{"field":"r","type":"quantitative","scale":{"domain":[0,10],"nice":false,"zero":false},"axis":{"orient":"top","values":[0,5,10],"labels":false,"title":"Z = 15 D","titlePadding":7}},"y":{"field":"y","type":"quantitative","scale":{"domain":[0,1],"nice":false,"zero":false},"axis":{"orient":"right","values":[0,0.5,1],"labels":false,"title":null}}}},
{"transform":[{"filter":"datum.k=='l'"}],"mark":"line","encoding":{"x":{"field":"r","type":"quantitative","scale":{"domain":[0,10],"nice":false,"zero":false},"axis":{"orient":"bottom","values":[0,5,10],"labels":false,"title":null}},"y":{"field":"y","type":"quantitative","scale":{"domain":[0,1],"nice":false,"zero":false},"axis":{"orient":"left","values":[0,0.5,1],"labels":false,"title":null}}}}
],"resolve":{"axis":{"x":"independent","y":"independent"}}},
{"width":190.5,"height":162.5,"transform":[{"filter":"datum.z==30 && datum.v=='MF'"}],"layer":[
{"transform":[{"filter":"datum.k=='p'"}],"mark":"point","encoding":{"x":{"field":"r","type":"quantitative","scale":{"domain":[0,10],"nice":false,"zero":false},"axis":{"orient":"top","values":[0,5,10],"labels":false,"title":"Z = 30 D","titlePadding":7}},"y":{"field":"y","type":"quantitative","scale":{"domain":[0,1],"nice":false,"zero":false},"axis":{"orient":"right","values":[0,0.5,1],"labels":false,"title":null}}}},
{"transform":[{"filter":"datum.k=='l'"}],"mark":"line","encoding":{"x":{"field":"r","type":"quantitative","scale":{"domain":[0,10],"nice":false,"zero":false},"axis":{"orient":"bottom","values":[0,5,10],"labels":false,"title":null}},"y":{"field":"y","type":"quantitative","scale":{"domain":[0,1],"nice":false,"zero":false},"axis":{"orient":"left","values":[0,0.5,1],"labels":false,"title":null}}}}
],"resolve":{"axis":{"x":"independent","y":"independent"}}},
{"width":190.5,"height":162.5,"transform":[{"filter":"datum.z==45 && datum.v=='MF'"}],"layer":[
{"transform":[{"filter":"datum.k=='p'"}],"mark":"point","encoding":{"x":{"field":"r","type":"quantitative","scale":{"domain":[0,10],"nice":false,"zero":false},"axis":{"orient":"top","values":[0,5,10],"labels":false,"title":"Z = 45 D","titlePadding":7}},"y":{"field":"y","type":"quantitative","scale":{"domain":[0,1],"nice":false,"zero":false},"axis":{"orient":"right","values":[0,0.5,1],"labels":false,"title":null}}}},
{"transform":[{"filter":"datum.k=='l'"}],"mark":"line","encoding":{"x":{"field":"r","type":"quantitative","scale":{"domain":[0,10],"nice":false,"zero":false},"axis":{"orient":"bottom","values":[0,5,10],"labels":false,"title":null}},"y":{"field":"y","type":"quantitative","scale":{"domain":[0,1],"nice":false,"zero":false},"axis":{"orient":"left","values":[0,0.5,1],"labels":false,"title":null}}}}
],"resolve":{"axis":{"x":"independent","y":"independent"}}},
{"width":190.5,"height":162.5,"transform":[{"filter":"datum.z==60 && datum.v=='MF'"}],"layer":[
{"transform":[{"filter":"datum.k=='p'"}],"mark":"point","encoding":{"x":{"field":"r","type":"quantitative","scale":{"domain":[0,10],"nice":false,"zero":false},"axis":{"orient":"top","values":[0,5,10],"labels":false,"title":"Z = 60 D","titlePadding":7}},"y":{"field":"y","type":"quantitative","scale":{"domain":[0,1],"nice":false,"zero":false},"axis":{"orient":"right","values":[0,0.5,1],"labels":false,"title":null}}}},
{"transform":[{"filter":"datum.k=='l'"}],"mark":"line","encoding":{"x":{"field":"r","type":"quantitative","scale":{"domain":[0,10],"nice":false,"zero":false},"axis":{"orient":"bottom","values":[0,5,10],"labels":false,"title":null}},"y":{"field":"y","type":"quantitative","scale":{"domain":[0,1],"nice":false,"zero":false},"axis":{"orient":"left","values":[0,0.5,1],"labels":false,"title":null}}}}
],"resolve":{"axis":{"x":"independent","y":"independent"}}},

{"width":190.5,"height":162.5,"transform":[{"filter":"datum.z==1 && datum.v=='T'"}],"layer":[
{"transform":[{"filter":"datum.k=='p'"}],"mark":"point","encoding":{"x":{"field":"r","type":"quantitative","scale":{"domain":[0,10],"nice":false,"zero":false},"axis":{"orient":"top","values":[0,5,10],"labels":false,"title":null}},"y":{"field":"y","type":"quantitative","scale":{"domain":[0,2200],"nice":false,"zero":false},"axis":{"orient":"right","values":[0,1000,2000],"labels":false,"title":null}}}},
{"transform":[{"filter":"datum.k=='l'"}],"mark":"line","encoding":{"x":{"field":"r","type":"quantitative","scale":{"domain":[0,10],"nice":false,"zero":false},"axis":{"orient":"bottom","values":[0,5,10],"labels":false,"title":null}},"y":{"field":"y","type":"quantitative","scale":{"domain":[0,2200],"nice":false,"zero":false},"axis":{"orient":"left","values":[0,1000,2000],"format":"~f","title":"T (K)"}}}}
],"resolve":{"axis":{"x":"independent","y":"independent"}}},
{"width":190.5,"height":162.5,"transform":[{"filter":"datum.z==2 && datum.v=='T'"}],"layer":[
{"transform":[{"filter":"datum.k=='p'"}],"mark":"point","encoding":{"x":{"field":"r","type":"quantitative","scale":{"domain":[0,10],"nice":false,"zero":false},"axis":{"orient":"top","values":[0,5,10],"labels":false,"title":null}},"y":{"field":"y","type":"quantitative","scale":{"domain":[0,2200],"nice":false,"zero":false},"axis":{"orient":"right","values":[0,1000,2000],"labels":false,"title":null}}}},
{"transform":[{"filter":"datum.k=='l'"}],"mark":"line","encoding":{"x":{"field":"r","type":"quantitative","scale":{"domain":[0,10],"nice":false,"zero":false},"axis":{"orient":"bottom","values":[0,5,10],"labels":false,"title":null}},"y":{"field":"y","type":"quantitative","scale":{"domain":[0,2200],"nice":false,"zero":false},"axis":{"orient":"left","values":[0,1000,2000],"labels":false,"title":null}}}}
],"resolve":{"axis":{"x":"independent","y":"independent"}}},
{"width":190.5,"height":162.5,"transform":[{"filter":"datum.z==15 && datum.v=='T'"}],"layer":[
{"transform":[{"filter":"datum.k=='p'"}],"mark":"point","encoding":{"x":{"field":"r","type":"quantitative","scale":{"domain":[0,10],"nice":false,"zero":false},"axis":{"orient":"top","values":[0,5,10],"labels":false,"title":null}},"y":{"field":"y","type":"quantitative","scale":{"domain":[0,2200],"nice":false,"zero":false},"axis":{"orient":"right","values":[0,1000,2000],"labels":false,"title":null}}}},
{"transform":[{"filter":"datum.k=='l'"}],"mark":"line","encoding":{"x":{"field":"r","type":"quantitative","scale":{"domain":[0,10],"nice":false,"zero":false},"axis":{"orient":"bottom","values":[0,5,10],"labels":false,"title":null}},"y":{"field":"y","type":"quantitative","scale":{"domain":[0,2200],"nice":false,"zero":false},"axis":{"orient":"left","values":[0,1000,2000],"labels":false,"title":null}}}}
],"resolve":{"axis":{"x":"independent","y":"independent"}}},
{"width":190.5,"height":162.5,"transform":[{"filter":"datum.z==30 && datum.v=='T'"}],"layer":[
{"transform":[{"filter":"datum.k=='p'"}],"mark":"point","encoding":{"x":{"field":"r","type":"quantitative","scale":{"domain":[0,10],"nice":false,"zero":false},"axis":{"orient":"top","values":[0,5,10],"labels":false,"title":null}},"y":{"field":"y","type":"quantitative","scale":{"domain":[0,2200],"nice":false,"zero":false},"axis":{"orient":"right","values":[0,1000,2000],"labels":false,"title":null}}}},
{"transform":[{"filter":"datum.k=='l'"}],"mark":"line","encoding":{"x":{"field":"r","type":"quantitative","scale":{"domain":[0,10],"nice":false,"zero":false},"axis":{"orient":"bottom","values":[0,5,10],"labels":false,"title":null}},"y":{"field":"y","type":"quantitative","scale":{"domain":[0,2200],"nice":false,"zero":false},"axis":{"orient":"left","values":[0,1000,2000],"labels":false,"title":null}}}}
],"resolve":{"axis":{"x":"independent","y":"independent"}}},
{"width":190.5,"height":162.5,"transform":[{"filter":"datum.z==45 && datum.v=='T'"}],"layer":[
{"transform":[{"filter":"datum.k=='p'"}],"mark":"point","encoding":{"x":{"field":"r","type":"quantitative","scale":{"domain":[0,10],"nice":false,"zero":false},"axis":{"orient":"top","values":[0,5,10],"labels":false,"title":null}},"y":{"field":"y","type":"quantitative","scale":{"domain":[0,2200],"nice":false,"zero":false},"axis":{"orient":"right","values":[0,1000,2000],"labels":false,"title":null}}}},
{"transform":[{"filter":"datum.k=='l'"}],"mark":"line","encoding":{"x":{"field":"r","type":"quantitative","scale":{"domain":[0,10],"nice":false,"zero":false},"axis":{"orient":"bottom","values":[0,5,10],"labels":false,"title":null}},"y":{"field":"y","type":"quantitative","scale":{"domain":[0,2200],"nice":false,"zero":false},"axis":{"orient":"left","values":[0,1000,2000],"labels":false,"title":null}}}}
],"resolve":{"axis":{"x":"independent","y":"independent"}}},
{"width":190.5,"height":162.5,"transform":[{"filter":"datum.z==60 && datum.v=='T'"}],"layer":[
{"transform":[{"filter":"datum.k=='p'"}],"mark":"point","encoding":{"x":{"field":"r","type":"quantitative","scale":{"domain":[0,10],"nice":false,"zero":false},"axis":{"orient":"top","values":[0,5,10],"labels":false,"title":null}},"y":{"field":"y","type":"quantitative","scale":{"domain":[0,2200],"nice":false,"zero":false},"axis":{"orient":"right","values":[0,1000,2000],"labels":false,"title":null}}}},
{"transform":[{"filter":"datum.k=='l'"}],"mark":"line","encoding":{"x":{"field":"r","type":"quantitative","scale":{"domain":[0,10],"nice":false,"zero":false},"axis":{"orient":"bottom","values":[0,5,10],"labels":false,"title":null}},"y":{"field":"y","type":"quantitative","scale":{"domain":[0,2200],"nice":false,"zero":false},"axis":{"orient":"left","values":[0,1000,2000],"labels":false,"title":null}}}}
],"resolve":{"axis":{"x":"independent","y":"independent"}}},

{"width":190.5,"height":162.5,"transform":[{"filter":"datum.z==1 && datum.v=='MFrms'"}],"layer":[
{"transform":[{"filter":"datum.k=='p'"}],"mark":"point","encoding":{"x":{"field":"r","type":"quantitative","scale":{"domain":[0,10],"nice":false,"zero":false},"axis":{"orient":"top","values":[0,5,10],"labels":false,"title":null}},"y":{"field":"y","type":"quantitative","scale":{"domain":[0,0.2],"nice":false,"zero":false},"axis":{"orient":"right","values":[0,0.1,0.2],"labels":false,"title":null}}}},
{"transform":[{"filter":"datum.k=='l'"}],"mark":"line","encoding":{"x":{"field":"r","type":"quantitative","scale":{"domain":[0,10],"nice":false,"zero":false},"axis":{"orient":"bottom","values":[0,5,10],"labels":false,"title":null}},"y":{"field":"y","type":"quantitative","scale":{"domain":[0,0.2],"nice":false,"zero":false},"axis":{"orient":"left","values":[0,0.1,0.2],"format":"~f","title":"MF rms"}}}}
],"resolve":{"axis":{"x":"independent","y":"independent"}}},
{"width":190.5,"height":162.5,"transform":[{"filter":"datum.z==2 && datum.v=='MFrms'"}],"layer":[
{"transform":[{"filter":"datum.k=='p'"}],"mark":"point","encoding":{"x":{"field":"r","type":"quantitative","scale":{"domain":[0,10],"nice":false,"zero":false},"axis":{"orient":"top","values":[0,5,10],"labels":false,"title":null}},"y":{"field":"y","type":"quantitative","scale":{"domain":[0,0.2],"nice":false,"zero":false},"axis":{"orient":"right","values":[0,0.1,0.2],"labels":false,"title":null}}}},
{"transform":[{"filter":"datum.k=='l'"}],"mark":"line","encoding":{"x":{"field":"r","type":"quantitative","scale":{"domain":[0,10],"nice":false,"zero":false},"axis":{"orient":"bottom","values":[0,5,10],"labels":false,"title":null}},"y":{"field":"y","type":"quantitative","scale":{"domain":[0,0.2],"nice":false,"zero":false},"axis":{"orient":"left","values":[0,0.1,0.2],"labels":false,"title":null}}}}
],"resolve":{"axis":{"x":"independent","y":"independent"}}},
{"width":190.5,"height":162.5,"transform":[{"filter":"datum.z==15 && datum.v=='MFrms'"}],"layer":[
{"transform":[{"filter":"datum.k=='p'"}],"mark":"point","encoding":{"x":{"field":"r","type":"quantitative","scale":{"domain":[0,10],"nice":false,"zero":false},"axis":{"orient":"top","values":[0,5,10],"labels":false,"title":null}},"y":{"field":"y","type":"quantitative","scale":{"domain":[0,0.2],"nice":false,"zero":false},"axis":{"orient":"right","values":[0,0.1,0.2],"labels":false,"title":null}}}},
{"transform":[{"filter":"datum.k=='l'"}],"mark":"line","encoding":{"x":{"field":"r","type":"quantitative","scale":{"domain":[0,10],"nice":false,"zero":false},"axis":{"orient":"bottom","values":[0,5,10],"labels":false,"title":null}},"y":{"field":"y","type":"quantitative","scale":{"domain":[0,0.2],"nice":false,"zero":false},"axis":{"orient":"left","values":[0,0.1,0.2],"labels":false,"title":null}}}}
],"resolve":{"axis":{"x":"independent","y":"independent"}}},
{"width":190.5,"height":162.5,"transform":[{"filter":"datum.z==30 && datum.v=='MFrms'"}],"layer":[
{"transform":[{"filter":"datum.k=='p'"}],"mark":"point","encoding":{"x":{"field":"r","type":"quantitative","scale":{"domain":[0,10],"nice":false,"zero":false},"axis":{"orient":"top","values":[0,5,10],"labels":false,"title":null}},"y":{"field":"y","type":"quantitative","scale":{"domain":[0,0.2],"nice":false,"zero":false},"axis":{"orient":"right","values":[0,0.1,0.2],"labels":false,"title":null}}}},
{"transform":[{"filter":"datum.k=='l'"}],"mark":"line","encoding":{"x":{"field":"r","type":"quantitative","scale":{"domain":[0,10],"nice":false,"zero":false},"axis":{"orient":"bottom","values":[0,5,10],"labels":false,"title":null}},"y":{"field":"y","type":"quantitative","scale":{"domain":[0,0.2],"nice":false,"zero":false},"axis":{"orient":"left","values":[0,0.1,0.2],"labels":false,"title":null}}}}
],"resolve":{"axis":{"x":"independent","y":"independent"}}},
{"width":190.5,"height":162.5,"transform":[{"filter":"datum.z==45 && datum.v=='MFrms'"}],"layer":[
{"transform":[{"filter":"datum.k=='p'"}],"mark":"point","encoding":{"x":{"field":"r","type":"quantitative","scale":{"domain":[0,10],"nice":false,"zero":false},"axis":{"orient":"top","values":[0,5,10],"labels":false,"title":null}},"y":{"field":"y","type":"quantitative","scale":{"domain":[0,0.2],"nice":false,"zero":false},"axis":{"orient":"right","values":[0,0.1,0.2],"labels":false,"title":null}}}},
{"transform":[{"filter":"datum.k=='l'"}],"mark":"line","encoding":{"x":{"field":"r","type":"quantitative","scale":{"domain":[0,10],"nice":false,"zero":false},"axis":{"orient":"bottom","values":[0,5,10],"labels":false,"title":null}},"y":{"field":"y","type":"quantitative","scale":{"domain":[0,0.2],"nice":false,"zero":false},"axis":{"orient":"left","values":[0,0.1,0.2],"labels":false,"title":null}}}}
],"resolve":{"axis":{"x":"independent","y":"independent"}}},
{"width":190.5,"height":162.5,"transform":[{"filter":"datum.z==60 && datum.v=='MFrms'"}],"layer":[
{"transform":[{"filter":"datum.k=='p'"}],"mark":"point","encoding":{"x":{"field":"r","type":"quantitative","scale":{"domain":[0,10],"nice":false,"zero":false},"axis":{"orient":"top","values":[0,5,10],"labels":false,"title":null}},"y":{"field":"y","type":"quantitative","scale":{"domain":[0,0.2],"nice":false,"zero":false},"axis":{"orient":"right","values":[0,0.1,0.2],"labels":false,"title":null}}}},
{"transform":[{"filter":"datum.k=='l'"}],"mark":"line","encoding":{"x":{"field":"r","type":"quantitative","scale":{"domain":[0,10],"nice":false,"zero":false},"axis":{"orient":"bottom","values":[0,5,10],"labels":false,"title":null}},"y":{"field":"y","type":"quantitative","scale":{"domain":[0,0.2],"nice":false,"zero":false},"axis":{"orient":"left","values":[0,0.1,0.2],"labels":false,"title":null}}}}
],"resolve":{"axis":{"x":"independent","y":"independent"}}},

{"width":190.5,"height":162.5,"transform":[{"filter":"datum.z==1 && datum.v=='Trms'"}],"layer":[
{"transform":[{"filter":"datum.k=='p'"}],"mark":"point","encoding":{"x":{"field":"r","type":"quantitative","scale":{"domain":[0,10],"nice":false,"zero":false},"axis":{"orient":"top","values":[0,5,10],"labels":false,"title":null}},"y":{"field":"y","type":"quantitative","scale":{"domain":[0,500],"nice":false,"zero":false},"axis":{"orient":"right","values":[0,200,400],"labels":false,"title":null}}}},
{"transform":[{"filter":"datum.k=='l'"}],"mark":"line","encoding":{"x":{"field":"r","type":"quantitative","scale":{"domain":[0,10],"nice":false,"zero":false},"axis":{"orient":"bottom","values":[0,5,10],"format":"~f","title":"r / D"}},"y":{"field":"y","type":"quantitative","scale":{"domain":[0,500],"nice":false,"zero":false},"axis":{"orient":"left","values":[0,200,400],"format":"~f","title":"T rms (K)"}}}}
],"resolve":{"axis":{"x":"independent","y":"independent"}}},
{"width":190.5,"height":162.5,"transform":[{"filter":"datum.z==2 && datum.v=='Trms'"}],"layer":[
{"transform":[{"filter":"datum.k=='p'"}],"mark":"point","encoding":{"x":{"field":"r","type":"quantitative","scale":{"domain":[0,10],"nice":false,"zero":false},"axis":{"orient":"top","values":[0,5,10],"labels":false,"title":null}},"y":{"field":"y","type":"quantitative","scale":{"domain":[0,500],"nice":false,"zero":false},"axis":{"orient":"right","values":[0,200,400],"labels":false,"title":null}}}},
{"transform":[{"filter":"datum.k=='l'"}],"mark":"line","encoding":{"x":{"field":"r","type":"quantitative","scale":{"domain":[0,10],"nice":false,"zero":false},"axis":{"orient":"bottom","values":[0,5,10],"format":"~f","title":"r / D"}},"y":{"field":"y","type":"quantitative","scale":{"domain":[0,500],"nice":false,"zero":false},"axis":{"orient":"left","values":[0,200,400],"labels":false,"title":null}}}}
],"resolve":{"axis":{"x":"independent","y":"independent"}}},
{"width":190.5,"height":162.5,"transform":[{"filter":"datum.z==15 && datum.v=='Trms'"}],"layer":[
{"transform":[{"filter":"datum.k=='p'"}],"mark":"point","encoding":{"x":{"field":"r","type":"quantitative","scale":{"domain":[0,10],"nice":false,"zero":false},"axis":{"orient":"top","values":[0,5,10],"labels":false,"title":null}},"y":{"field":"y","type":"quantitative","scale":{"domain":[0,500],"nice":false,"zero":false},"axis":{"orient":"right","values":[0,200,400],"labels":false,"title":null}}}},
{"transform":[{"filter":"datum.k=='l'"}],"mark":"line","encoding":{"x":{"field":"r","type":"quantitative","scale":{"domain":[0,10],"nice":false,"zero":false},"axis":{"orient":"bottom","values":[0,5,10],"format":"~f","title":"r / D"}},"y":{"field":"y","type":"quantitative","scale":{"domain":[0,500],"nice":false,"zero":false},"axis":{"orient":"left","values":[0,200,400],"labels":false,"title":null}}}}
],"resolve":{"axis":{"x":"independent","y":"independent"}}},
{"width":190.5,"height":162.5,"transform":[{"filter":"datum.z==30 && datum.v=='Trms'"}],"layer":[
{"transform":[{"filter":"datum.k=='p'"}],"mark":"point","encoding":{"x":{"field":"r","type":"quantitative","scale":{"domain":[0,10],"nice":false,"zero":false},"axis":{"orient":"top","values":[0,5,10],"labels":false,"title":null}},"y":{"field":"y","type":"quantitative","scale":{"domain":[0,500],"nice":false,"zero":false},"axis":{"orient":"right","values":[0,200,400],"labels":false,"title":null}}}},
{"transform":[{"filter":"datum.k=='l'"}],"mark":"line","encoding":{"x":{"field":"r","type":"quantitative","scale":{"domain":[0,10],"nice":false,"zero":false},"axis":{"orient":"bottom","values":[0,5,10],"format":"~f","title":"r / D"}},"y":{"field":"y","type":"quantitative","scale":{"domain":[0,500],"nice":false,"zero":false},"axis":{"orient":"left","values":[0,200,400],"labels":false,"title":null}}}}
],"resolve":{"axis":{"x":"independent","y":"independent"}}},
{"width":190.5,"height":162.5,"transform":[{"filter":"datum.z==45 && datum.v=='Trms'"}],"layer":[
{"transform":[{"filter":"datum.k=='p'"}],"mark":"point","encoding":{"x":{"field":"r","type":"quantitative","scale":{"domain":[0,10],"nice":false,"zero":false},"axis":{"orient":"top","values":[0,5,10],"labels":false,"title":null}},"y":{"field":"y","type":"quantitative","scale":{"domain":[0,500],"nice":false,"zero":false},"axis":{"orient":"right","values":[0,200,400],"labels":false,"title":null}}}},
{"transform":[{"filter":"datum.k=='l'"}],"mark":"line","encoding":{"x":{"field":"r","type":"quantitative","scale":{"domain":[0,10],"nice":false,"zero":false},"axis":{"orient":"bottom","values":[0,5,10],"format":"~f","title":"r / D"}},"y":{"field":"y","type":"quantitative","scale":{"domain":[0,500],"nice":false,"zero":false},"axis":{"orient":"left","values":[0,200,400],"labels":false,"title":null}}}}
],"resolve":{"axis":{"x":"independent","y":"independent"}}},
{"width":190.5,"height":162.5,"transform":[{"filter":"datum.z==60 && datum.v=='Trms'"}],"layer":[
{"transform":[{"filter":"datum.k=='p'"}],"mark":"point","encoding":{"x":{"field":"r","type":"quantitative","scale":{"domain":[0,10],"nice":false,"zero":false},"axis":{"orient":"top","values":[0,5,10],"labels":false,"title":null}},"y":{"field":"y","type":"quantitative","scale":{"domain":[0,500],"nice":false,"zero":false},"axis":{"orient":"right","values":[0,200,400],"labels":false,"title":null}}}},
{"transform":[{"filter":"datum.k=='l'"}],"mark":"line","encoding":{"x":{"field":"r","type":"quantitative","scale":{"domain":[0,10],"nice":false,"zero":false},"axis":{"orient":"bottom","values":[0,5,10],"format":"~f","title":"r / D"}},"y":{"field":"y","type":"quantitative","scale":{"domain":[0,500],"nice":false,"zero":false},"axis":{"orient":"left","values":[0,200,400],"labels":false,"title":null}}}}
],"resolve":{"axis":{"x":"independent","y":"independent"}}}
],
"config":{
"view":{"stroke":null},
"font":"DejaVu Sans",
"axis":{"grid":false,"domainColor":"black","domainWidth":1.6,"tickColor":"black","tickWidth":1.4,"tickSize":-4,"labelFont":"DejaVu Sans","labelFontWeight":"bold","labelFontSize":18,"labelColor":"black","labelFlush":false,"labelOverlap":false,"titleFont":"DejaVu Sans","titleFontWeight":"bold","titleFontSize":21,"titleColor":"black"},
"axisX":{"labelPadding":21,"titlePadding":12},
"axisY":{"labelPadding":17,"titlePadding":8},
"line":{"color":"black","strokeWidth":2.5},
"point":{"color":"#0072BD","filled":false,"strokeWidth":2.6,"size":140,"opacity":1}
}
}
